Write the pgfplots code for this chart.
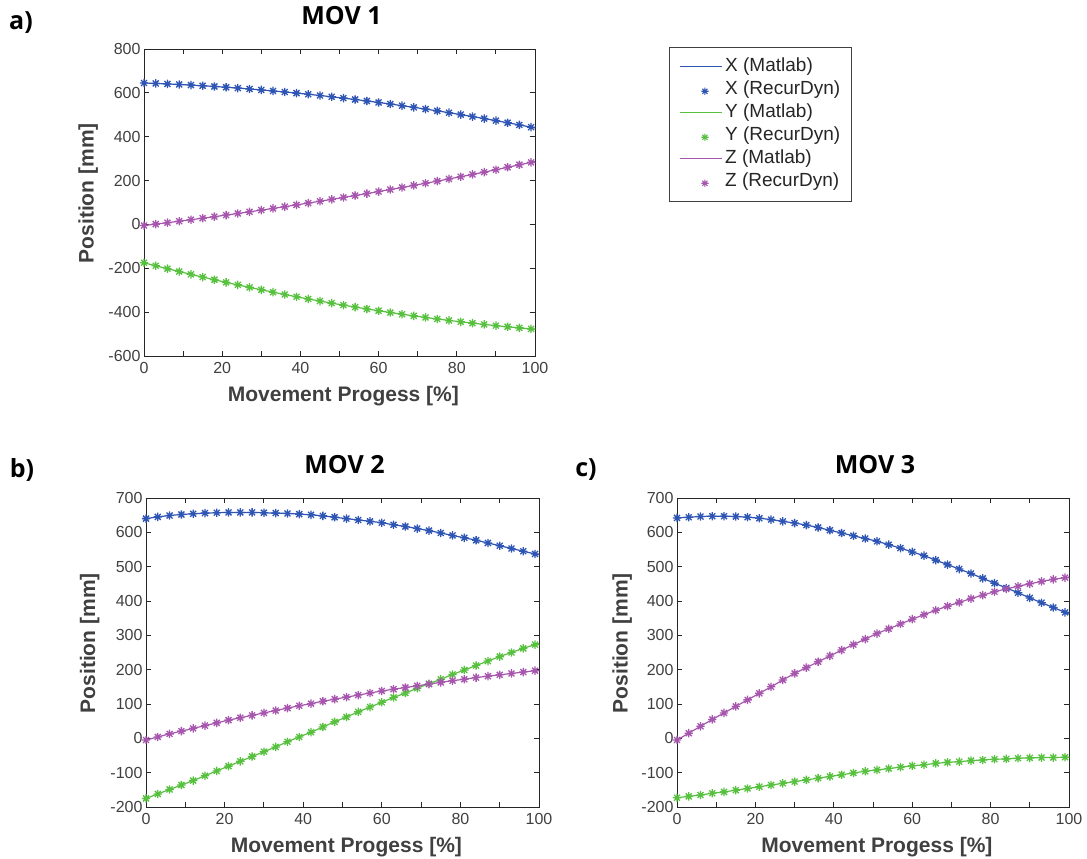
\documentclass[border=0pt]{standalone}
\usepackage{fontspec}
\setmainfont{Liberation Sans}
\newfontfamily\titlefont{Open Sans}
\usepackage{pgfplots}
\pgfplotsset{compat=1.18}
\usepackage{pgfplotstable}

\definecolor{cX}{HTML}{2E55B4}
\definecolor{cY}{HTML}{57C13F}
\definecolor{cZ}{HTML}{A756AE}
\definecolor{axgray}{HTML}{262626}
\definecolor{lblgray}{HTML}{404040}

\pgfdeclareplotmark{mstar}{%
 \pgfpathmoveto{\pgfqpoint{-\pgfplotmarksize}{0pt}}\pgfpathlineto{\pgfqpoint{\pgfplotmarksize}{0pt}}%
 \pgfpathmoveto{\pgfqpoint{0pt}{-\pgfplotmarksize}}\pgfpathlineto{\pgfqpoint{0pt}{\pgfplotmarksize}}%
 \pgfpathmoveto{\pgfqpoint{-0.707\pgfplotmarksize}{-0.707\pgfplotmarksize}}\pgfpathlineto{\pgfqpoint{0.707\pgfplotmarksize}{0.707\pgfplotmarksize}}%
 \pgfpathmoveto{\pgfqpoint{-0.707\pgfplotmarksize}{0.707\pgfplotmarksize}}\pgfpathlineto{\pgfqpoint{0.707\pgfplotmarksize}{-0.707\pgfplotmarksize}}%
 \pgfusepathqstroke}

\pgfplotstableread{
x X Y Z
0 645 -175 -5
3 643.0 -188.6 1.4
6 640.7 -201.9 7.9
9 638.2 -214.9 14.6
12 635.4 -227.6 21.4
15 632.4 -240.1 28.3
18 629.1 -252.3 35.4
21 625.5 -264.2 42.6
24 621.7 -275.8 50.0
27 617.6 -287.2 57.5
30 613.3 -298.2 65.2
33 608.7 -309.0 73.0
36 603.9 -319.6 81.0
39 598.8 -329.8 89.1
42 593.5 -339.8 97.3
45 587.9 -349.5 105.7
48 582.0 -358.9 114.2
51 575.9 -368.0 122.9
54 569.6 -376.9 131.7
57 563.0 -385.5 140.7
60 556.1 -393.8 149.8
63 549.0 -401.8 159.1
66 541.6 -409.5 168.5
69 533.9 -417.0 178.0
72 526.0 -424.2 187.7
75 517.9 -431.1 197.5
78 509.5 -437.8 207.5
81 500.8 -444.1 217.6
84 491.9 -450.2 227.9
87 482.7 -456.0 238.5
90 473.3 -461.6 249.5
93 463.6 -466.8 260.5
96 453.7 -471.8 272.0
99 443.5 -476.5 283.0
100 440 -478 287
}\movA

\pgfplotstableread{
x X Y Z
0 640 -175 -5
3 645 -162 4
6 649 -149 13
9 652 -136 21
12 654 -123 29
15 656 -109 37
18 657 -95 45
21 658 -81 53
24 658 -67 60
27 658 -53 67
30 657 -39 74
33 656 -25 81
36 655 -10 88
39 653 4 95
42 651 18 101
45 648 33 108
48 644 48 114
51 640 62 120
54 636 77 126
57 632 91 132
60 628 105 138
63 622 119 143
66 617 132 148
69 611 146 153
72 605 159 158
75 598 172 163
78 591 186 168
81 584 199 172
84 577 212 177
87 569 225 181
90 561 238 185
93 553 250 189
96 545 262 193
99 537 273 197
100 535 276 198
}\movB

\pgfplotstableread{
x X Y Z
0 642 -173 -5
3 644 -169 15
6 646 -165 35
9 647 -160 55
12 647 -156 74
15 646 -151 93
18 644 -146 112
21 641 -141 131
24 637 -136 150
27 632 -131 170
30 627 -126 189
33 621 -121 206
36 614 -116 223
39 606 -111 240
42 598 -106 257
45 590 -101 273
48 582 -96 289
51 574 -92 305
54 564 -88 319
57 554 -84 333
60 543 -80 347
63 532 -77 360
66 519 -73 373
69 506 -70 385
72 493 -68 396
75 480 -65 407
78 466 -63 417
81 452 -61 427
84 438 -60 435
87 424 -58 443
90 409 -57 450
93 395 -56 457
96 381 -56 463
99 367 -55 468
100 362 -55 470
}\movC

\pgfplotsset{
  mystyle/.style={
    scale only axis, anchor=south west,
    xmin=0, xmax=100, xtick={0,20,...,100}, minor x tick num=1,
    tick align=inside, major tick length=5pt, minor tick length=5pt,
    axis line style={axgray, line width=0.9pt},
    every tick/.style={axgray, line width=0.9pt},
    every minor tick/.style={axgray, line width=0.9pt},
    ticklabel style={font=\fontsize{16}{18}\selectfont, text=lblgray},
    /pgf/number format/assume math mode=true,
    xlabel={Movement Progess [\%]}, ylabel={Position [mm]},
    label style={font=\fontsize{21}{24}\selectfont\bfseries, text=lblgray},
    xlabel style={at={(axis description cs:0.51,-0.13)}, anchor=center},
    ylabel style={at={(axis description cs:-0.143,0.53)}, anchor=center},
    title style={at={(axis description cs:0.505,1.09)}, anchor=center,
      font=\titlefont\fontsize{25}{28}\bfseries\selectfont, text=black},
    xticklabel style={yshift=-3pt},
  },
  lineplot/.style={line width=1.2pt, smooth, no marks},
  markplot/.style={only marks, mark=mstar, mark size=4.2pt, line width=1.3pt,
    skip coords between index={34}{35}},
  lineleg/.style={legend image code/.code={\draw[##1] (0pt,0pt) -- (42pt,0pt);}},
  markleg/.style={legend image code/.code={\path[draw=none,fill=none] (0pt,-1pt) rectangle (42pt,1pt);
      \path[##1, draw=none, fill=none] (21pt,0pt) node[inner sep=0pt]
        {\tikz\draw[##1, mark size=3.6pt, line width=1.1pt] plot[only marks] coordinates {(0pt,0pt)};};}},
}

\begin{document}
\begin{tikzpicture}
\useasboundingbox (0pt,0pt) rectangle (1087pt,859pt);

\node[font=\titlefont\fontsize{25}{28}\bfseries\selectfont, anchor=center] at (21pt,836pt) {a)};
\node[font=\titlefont\fontsize{25}{28}\bfseries\selectfont, anchor=center] at (22pt,389pt) {b)};
\node[font=\titlefont\fontsize{25}{28}\bfseries\selectfont, anchor=center] at (586pt,389pt) {c)};

% a) MOV 1
\begin{axis}[mystyle, at={(144pt,503pt)}, width=391pt, height=307pt,
  ymin=-600, ymax=800, ytick={-600,-400,...,800},
  title={MOV 1},
  legend style={at={(axis description cs:1.343,1.0065)}, anchor=north west,
    draw=lblgray, line width=0.8pt, font=\fontsize{19}{22}\selectfont, text=axgray,
    inner xsep=10pt, inner ysep=8pt, row sep=0pt,
    nodes={inner sep=1.5pt, text height=15pt, text depth=5pt},
    /tikz/every odd column/.style={column sep=1pt}},
  legend cell align=left]
\addplot[cX, lineplot, lineleg] table[x=x,y=X]{\movA};
\addlegendentry{X (Matlab)}
\addplot[cX, markplot, markleg] table[x=x,y=X]{\movA};
\addlegendentry{X (RecurDyn)}
\addplot[cY, lineplot, lineleg] table[x=x,y=Y]{\movA};
\addlegendentry{Y (Matlab)}
\addplot[cY, markplot, markleg] table[x=x,y=Y]{\movA};
\addlegendentry{Y (RecurDyn)}
\addplot[cZ, lineplot, lineleg] table[x=x,y=Z]{\movA};
\addlegendentry{Z (Matlab)}
\addplot[cZ, markplot, markleg] table[x=x,y=Z]{\movA};
\addlegendentry{Z (RecurDyn)}
\end{axis}

% b) MOV 2
\begin{axis}[mystyle, at={(146pt,52pt)}, width=393pt, height=309pt,
  ymin=-200, ymax=700, ytick={-200,-100,...,700},
  title={MOV 2}]
\addplot[cX, lineplot] table[x=x,y=X]{\movB};
\addplot[cX, markplot] table[x=x,y=X]{\movB};
\addplot[cY, lineplot] table[x=x,y=Y]{\movB};
\addplot[cY, markplot] table[x=x,y=Y]{\movB};
\addplot[cZ, lineplot] table[x=x,y=Z]{\movB};
\addplot[cZ, markplot] table[x=x,y=Z]{\movB};
\end{axis}

% c) MOV 3
\begin{axis}[mystyle, at={(677pt,52pt)}, width=392pt, height=309pt,
  ymin=-200, ymax=700, ytick={-200,-100,...,700},
  title={MOV 3},
  ylabel style={at={(axis description cs:-0.140,0.53)}}]
\addplot[cX, lineplot] table[x=x,y=X]{\movC};
\addplot[cX, markplot] table[x=x,y=X]{\movC};
\addplot[cY, lineplot] table[x=x,y=Y]{\movC};
\addplot[cY, markplot] table[x=x,y=Y]{\movC};
\addplot[cZ, lineplot] table[x=x,y=Z]{\movC};
\addplot[cZ, markplot] table[x=x,y=Z]{\movC};
\end{axis}
\end{tikzpicture}
\end{document}
